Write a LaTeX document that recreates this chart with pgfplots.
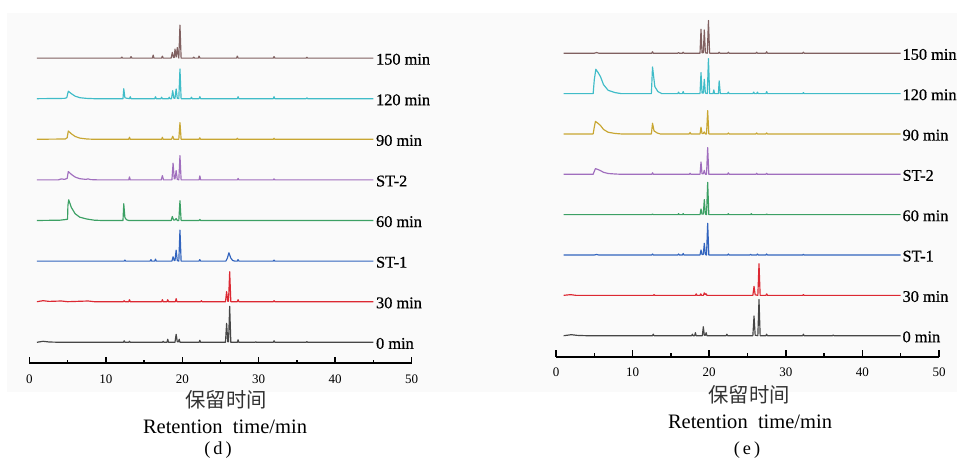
\documentclass[border=0pt]{standalone}
\usepackage{fontspec}
\setmainfont{Liberation Serif}
\newfontfamily\lblfont{Liberation Serif}[FakeBold=0.6]
\newfontfamily\cjk{Noto Sans CJK SC}
\usepackage{pgfplots}
\pgfplotsset{compat=1.18}
\usepackage{pgfplotstable}

\definecolor{cbrown}{RGB}{128,96,96}
\definecolor{ccyan}{RGB}{64,188,200}
\definecolor{cgold}{RGB}{200,166,50}
\definecolor{cpurple}{RGB}{160,110,190}
\definecolor{cgreen}{RGB}{60,160,100}
\definecolor{cblue}{RGB}{50,100,190}
\definecolor{cred}{RGB}{220,40,50}
\definecolor{cgray}{RGB}{70,70,70}

% panel (d): t = time (min), h = height above the trace's own baseline
\pgfplotstableread[row sep=\\]{t h\\ 1 0\\ 12.0 0\\ 12.1 1\\ 12.2 0\\ 13.2 0\\ 13.3 1.5\\ 13.4 0\\ 16.1 0\\ 16.2 3\\ 16.3 0\\ 17.3 0\\ 17.4 2\\ 17.5 0\\
18.55 0\\ 18.7 5.7\\ 18.85 0.5\\ 18.95 0.5\\ 19.05 9\\ 19.2 1\\ 19.35 10.5\\ 19.5 1\\ 19.55 0\\ 19.7 33\\ 19.85 0\\ 21.4 0\\ 21.5 1\\ 21.6 0\\
22.1 0\\ 22.2 2\\ 22.3 0\\ 27.1 0\\ 27.2 2\\ 27.3 0\\ 31.9 0\\ 32 1.5\\ 32.1 0\\ 36.2 0\\ 36.3 0.8\\ 36.4 0\\ 45 0\\}\dA
\pgfplotstableread[row sep=\\]{t h\\ 1 0\\ 4.6 0.3\\ 4.9 1\\ 5.1 7.5\\ 5.5 5\\ 6.0 2.5\\ 6.6 1\\ 7.5 0.3\\ 8.5 0\\ 12.25 0\\ 12.35 10\\ 12.5 1\\ 12.7 0.5\\
13.1 0\\ 13.2 2\\ 13.3 0\\ 16.4 0\\ 16.5 2\\ 16.6 0\\ 17.2 0\\ 17.3 1.5\\ 17.4 0\\ 18.2 0\\ 18.3 1.5\\ 18.4 0\\ 18.6 0\\ 18.75 8\\ 18.9 0.5\\
19.05 0.5\\ 19.2 9.7\\ 19.35 0.5\\ 19.55 0\\ 19.7 29.7\\ 19.85 0\\ 21.1 0\\ 21.2 1.5\\ 21.3 0\\ 22.2 0\\ 22.3 2\\ 22.4 0\\ 27.2 0\\ 27.3 2\\ 27.4 0\\
31.9 0\\ 32 2\\ 32.1 0\\ 36.2 0\\ 36.3 0.8\\ 36.4 0\\ 45 0\\}\dB
\pgfplotstableread[row sep=\\]{t h\\ 1 0\\ 4.7 0.3\\ 4.95 1.5\\ 5.1 8.3\\ 5.5 5.5\\ 6.0 2.8\\ 6.6 1.2\\ 7.5 0.3\\ 8.5 0\\ 13.0 0\\ 13.1 2\\ 13.2 0\\
17.3 0\\ 17.4 2\\ 17.5 0\\ 18.6 0\\ 18.75 3\\ 18.9 0\\ 19.55 0\\ 19.7 16.7\\ 19.85 0\\ 22.2 0\\ 22.3 1.5\\ 22.4 0\\ 27.1 0\\ 27.2 1\\ 27.3 0\\
31.9 0\\ 32 1\\ 32.1 0\\ 45 0\\}\dC
\pgfplotstableread[row sep=\\]{t h\\ 1 0\\ 3.8 0\\ 4.2 1\\ 4.6 0.5\\ 4.95 1.5\\ 5.1 8.3\\ 5.5 5.5\\ 6.0 2.8\\ 6.6 1.2\\ 7.4 0.5\\ 7.7 1\\ 8.0 0.3\\ 9 0\\
13.0 0\\ 13.1 3\\ 13.2 0\\ 17.25 0\\ 17.4 4.3\\ 17.55 0\\ 18.65 0\\ 18.8 16.7\\ 18.95 1\\ 19.05 1\\ 19.2 9.3\\ 19.35 0.5\\ 19.55 0\\ 19.7 24.3\\ 19.85 0\\
22.2 0\\ 22.3 4\\ 22.4 0\\ 27.2 0\\ 27.3 1.5\\ 27.4 0\\ 31.9 0\\ 32 1\\ 32.1 0\\ 45 0\\}\dD
\pgfplotstableread[row sep=\\]{t h\\ 1 0\\ 4.0 0.3\\ 4.8 1\\ 5.0 1.2\\ 5.05 15\\ 5.15 20.7\\ 5.5 13\\ 6.0 6.7\\ 6.6 3.3\\ 7.5 1.5\\ 8.5 0.3\\ 9.5 0\\
12.25 0\\ 12.35 16.7\\ 12.5 3\\ 12.7 0.8\\ 13.0 0\\ 18.55 0\\ 18.7 4\\ 18.85 0.5\\ 19.05 0.5\\ 19.2 2\\ 19.35 0\\ 19.55 0\\ 19.7 19.7\\ 19.85 0\\
22.2 0\\ 22.3 1\\ 22.4 0\\ 45 0\\}\dE
\pgfplotstableread[row sep=\\]{t h\\ 1 0\\ 12.4 0\\ 12.5 1\\ 12.6 0\\ 15.8 0\\ 15.9 1.5\\ 16.0 0\\ 16.4 0\\ 16.5 2\\ 16.6 0\\ 18.65 0\\ 18.8 4.3\\ 18.95 0.5\\
19.05 0.5\\ 19.2 11\\ 19.35 0.5\\ 19.55 0\\ 19.7 31\\ 19.85 0\\ 22.2 0\\ 22.3 1.5\\ 22.4 0\\ 25.7 0\\ 25.9 3\\ 26.1 8.3\\ 26.35 3\\ 26.6 0.5\\ 26.9 0\\
27.2 0\\ 27.3 1.5\\ 27.4 0\\ 31.9 0\\ 32 1\\ 32.1 0\\ 45 0\\}\dF
\pgfplotstableread[row sep=\\]{t h\\ 1 0\\ 1.8 1\\ 2.6 0.3\\ 4.2 0.7\\ 5 0\\ 7.7 0.7\\ 8.5 0\\ 12.3 0\\ 12.4 1\\ 12.5 0\\ 13.0 0\\ 13.1 2\\ 13.2 0\\
17.3 0\\ 17.4 2\\ 17.5 0\\ 18.0 0\\ 18.1 2\\ 18.2 0\\ 19.1 0\\ 19.2 3\\ 19.3 0\\ 22.4 0\\ 22.5 1\\ 22.6 0\\ 25.65 0\\ 25.8 10\\ 25.95 0.5\\
26.05 0.5\\ 26.2 30\\ 26.35 0\\ 27.2 0\\ 27.3 2\\ 27.4 0\\ 31.9 0\\ 32 1\\ 32.1 0\\ 45 0\\}\dG
\pgfplotstableread[row sep=\\]{t h\\ 1 0\\ 1.8 1\\ 2.6 0.3\\ 4 0\\ 12.3 0\\ 12.4 1.5\\ 12.5 0\\ 13.0 0\\ 13.1 1\\ 13.2 0\\ 17.4 0\\ 17.5 1\\ 17.6 0\\
18.0 0\\ 18.1 3\\ 18.2 0\\ 19.05 0\\ 19.2 8\\ 19.35 0.5\\ 19.5 0.5\\ 19.6 3\\ 19.7 0\\ 22.2 0\\ 22.3 2\\ 22.4 0\\ 25.65 0\\ 25.8 19\\ 25.95 0.5\\
26.05 0.5\\ 26.2 36\\ 26.35 0\\ 27.2 0\\ 27.3 2.5\\ 27.4 0\\ 29.5 0\\ 29.6 0.5\\ 29.7 0\\ 31.9 0\\ 32 1.5\\ 32.1 0\\ 36.2 0\\ 36.3 0.7\\ 36.4 0\\ 45 0\\}\dH

% panel (e)
\pgfplotstableread[row sep=\\]{t h\\ 1 0\\ 5.0 0\\ 5.3 0.7\\ 5.6 0\\ 12.5 0\\ 12.6 1.5\\ 12.7 0\\ 15.9 0\\ 16.0 0.7\\ 16.1 0\\ 16.5 0\\ 16.6 1\\ 16.7 0\\
18.8 0\\ 18.93 24\\ 19.06 0.5\\ 19.23 0.5\\ 19.36 23.3\\ 19.5 0.5\\ 19.75 0\\ 19.9 32.7\\ 20.05 0\\ 21.2 0\\ 21.3 1\\ 21.4 0\\ 22.4 0\\ 22.5 1\\ 22.6 0\\
26.1 0\\ 26.2 1\\ 26.3 0\\ 27.4 0\\ 27.5 1.5\\ 27.6 0\\ 32.2 0\\ 32.3 1\\ 32.4 0\\ 45 0\\}\eA
\pgfplotstableread[row sep=\\]{t h\\ 1 0\\ 4.85 0\\ 5.0 14\\ 5.2 24.3\\ 5.5 21\\ 5.8 17\\ 6.2 9\\ 6.8 3.3\\ 7.7 1\\ 8.5 0\\ 12.45 0\\ 12.6 26.7\\ 12.9 7\\
13.3 2\\ 13.8 0\\ 15.9 0\\ 16.0 1.5\\ 16.1 0\\ 16.5 0\\ 16.6 2\\ 16.7 0\\ 18.8 0\\ 18.93 21\\ 19.06 0.5\\ 19.23 0.5\\ 19.36 14.3\\ 19.5 0.5\\ 19.75 0\\
19.9 35\\ 20.05 0\\ 20.5 0\\ 20.6 3.7\\ 20.7 0\\ 21.2 0\\ 21.3 12.7\\ 21.45 0\\ 22.4 0\\ 22.5 1.5\\ 22.6 0\\ 25.7 0\\ 25.8 1.5\\ 25.9 0\\ 26.2 0\\ 26.3 1.5\\
26.4 0\\ 27.4 0\\ 27.5 2\\ 27.6 0\\ 32.2 0\\ 32.3 1\\ 32.4 0\\ 45 0\\}\eB
\pgfplotstableread[row sep=\\]{t h\\ 1 0\\ 4.85 0\\ 5.0 7\\ 5.15 12.5\\ 5.5 10.5\\ 5.8 8.5\\ 6.2 4.5\\ 6.8 1.7\\ 7.7 0.5\\ 8.5 0\\ 12.45 0\\ 12.6 10.7\\
12.8 3\\ 13.2 1\\ 13.6 0\\ 17.4 0\\ 17.5 1.5\\ 17.6 0\\ 18.8 0\\ 18.93 6.7\\ 19.06 0.5\\ 19.23 0.5\\ 19.36 2\\ 19.5 0\\ 19.65 0\\ 19.8 23.3\\ 19.95 0\\
22.4 0\\ 22.5 1\\ 22.6 0\\ 26.1 0\\ 26.2 1\\ 26.3 0\\ 27.4 0\\ 27.5 1\\ 27.6 0\\ 45 0\\}\eC
\pgfplotstableread[row sep=\\]{t h\\ 1 0\\ 4.85 0\\ 5.0 3\\ 5.15 5.7\\ 5.5 4.7\\ 5.8 3.7\\ 6.2 2\\ 6.8 0.8\\ 7.7 0.3\\ 8.5 0\\ 12.5 0\\ 12.6 1.5\\ 12.7 0\\
17.4 0\\ 17.5 1\\ 17.6 0\\ 18.8 0\\ 18.93 12.3\\ 19.06 0.5\\ 19.23 0.5\\ 19.36 4\\ 19.5 0\\ 19.65 0\\ 19.8 26.7\\ 19.95 0\\ 22.4 0\\ 22.5 1.5\\ 22.6 0\\
26.1 0\\ 26.2 1\\ 26.3 0\\ 27.4 0\\ 27.5 1\\ 27.6 0\\ 45 0\\}\eD
\pgfplotstableread[row sep=\\]{t h\\ 1 0\\ 12.5 0\\ 12.6 0.7\\ 12.7 0\\ 15.9 0\\ 16.0 1\\ 16.1 0\\ 16.5 0\\ 16.6 1\\ 16.7 0\\ 18.8 0\\ 18.93 5.7\\ 19.06 0.5\\
19.23 0.5\\ 19.36 15\\ 19.5 0.5\\ 19.65 0\\ 19.8 32.3\\ 19.95 0\\ 22.4 0\\ 22.5 1\\ 22.6 0\\ 25.4 0\\ 25.5 1\\ 25.6 0\\ 27.4 0\\ 27.5 0.7\\ 27.6 0\\ 45 0\\}\eE
\pgfplotstableread[row sep=\\]{t h\\ 1 0\\ 5.0 0\\ 5.3 0.5\\ 5.6 0\\ 12.5 0\\ 12.6 1\\ 12.7 0\\ 15.9 0\\ 16.0 1\\ 16.1 0\\ 16.5 0\\ 16.6 1.5\\ 16.7 0\\
18.8 0\\ 18.93 5\\ 19.06 0.5\\ 19.23 0.5\\ 19.36 11.7\\ 19.5 0.5\\ 19.65 0\\ 19.8 31.7\\ 19.95 0\\ 22.4 0\\ 22.5 1\\ 22.6 0\\ 25.3 0\\ 25.4 0.7\\ 25.5 0\\
26.2 0\\ 26.3 1\\ 26.4 0\\ 27.4 0\\ 27.5 1\\ 27.6 0\\ 32.2 0\\ 32.3 0.7\\ 32.4 0\\ 45 0\\}\eF
\pgfplotstableread[row sep=\\]{t h\\ 1 0\\ 1.9 0.7\\ 2.6 0\\ 12.7 0\\ 12.8 0.7\\ 12.9 0\\ 18.2 0\\ 18.3 1.5\\ 18.4 0\\ 18.8 0\\ 18.9 1.5\\ 19.0 0\\
19.25 0\\ 19.36 2.5\\ 19.5 0.8\\ 19.6 1.5\\ 19.7 0\\ 25.7 0\\ 25.85 9\\ 26.0 0.5\\ 26.35 0\\ 26.5 31.7\\ 26.65 0\\ 27.4 0\\ 27.5 1.5\\ 27.6 0\\
32.2 0\\ 32.3 0.7\\ 32.4 0\\ 45 0\\}\eG
\pgfplotstableread[row sep=\\]{t h\\ 1 0\\ 2.0 1\\ 2.8 0.3\\ 4 0\\ 12.6 0\\ 12.7 1.5\\ 12.8 0\\ 17.7 0\\ 17.8 1.5\\ 17.9 0\\ 18.1 0\\ 18.2 3\\ 18.3 0\\
19.1 0\\ 19.23 9\\ 19.36 0.5\\ 19.5 0.5\\ 19.6 3\\ 19.7 0\\ 22.2 0\\ 22.3 1.5\\ 22.4 0\\ 25.7 0\\ 25.85 19.7\\ 26.0 0.5\\ 26.35 0\\ 26.5 36.3\\ 26.65 0\\
27.4 0\\ 27.5 1.5\\ 27.6 0\\ 32.2 0\\ 32.3 1.5\\ 32.4 0\\ 36.1 0\\ 36.2 0.7\\ 36.3 0\\ 45 0\\}\eH

\pgfplotsset{
  chrom/.style={
    scale only axis, clip=false,
    xmin=0, xmax=50, ymin=0, ymax=345,
    axis x line*=bottom, axis y line=none,
    xtick={0,10,...,50}, minor x tick num=1,
    tick align=inside,
    major tick length=4pt, minor tick length=2pt,
    every outer x axis line/.append style={line width=1.1pt},
    every tick/.style={black, line width=0.9pt},
    xticklabel style={font=\fontsize{7.8}{8}\selectfont, yshift=-3.4pt},
    /pgf/number format/assume math mode=true,
    every axis plot/.append style={line width=0.7pt, line join=round},
  },
}
\tikzset{tlabel/.style={anchor=west, inner sep=0pt, font=\lblfont\fontsize{9.8}{10}\selectfont, yshift=-0.7pt}}

\begin{document}
\begin{tikzpicture}
\useasboundingbox (0,0) rectangle (574.2pt,274.8pt);
\fill[black!2] (4.2pt,267pt) rectangle (574.2pt,39.6pt);

% ---- (d)
\begin{axis}[chrom, at={(17.58pt,56.82pt)}, anchor=south west, width=229.44pt, height=207pt]
\addplot[cbrown]  table[x=t, y expr=\thisrow{h}+305.2] {\dA};
\addplot[ccyan]   table[x=t, y expr=\thisrow{h}+264.6] {\dB};
\addplot[cgold]   table[x=t, y expr=\thisrow{h}+224.0] {\dC};
\addplot[cpurple] table[x=t, y expr=\thisrow{h}+183.4] {\dD};
\addplot[cgreen]  table[x=t, y expr=\thisrow{h}+142.8] {\dE};
\addplot[cblue]   table[x=t, y expr=\thisrow{h}+102.2] {\dF};
\addplot[cred]    table[x=t, y expr=\thisrow{h}+61.6]  {\dG};
\addplot[cgray]   table[x=t, y expr=\thisrow{h}+21.0]  {\dH};
\node[tlabel] at (axis cs:45.3,305.2) {150 min};
\node[tlabel] at (axis cs:45.3,264.6) {120 min};
\node[tlabel] at (axis cs:45.3,224.0) {90 min};
\node[tlabel] at (axis cs:45.3,183.4) {ST-2};
\node[tlabel] at (axis cs:45.3,142.8) {60 min};
\node[tlabel] at (axis cs:45.3,102.2) {ST-1};
\node[tlabel] at (axis cs:45.3,61.6)  {30 min};
\node[tlabel] at (axis cs:45.3,21.0)  {0 min};
\end{axis}

% ---- (e)
\begin{axis}[chrom, at={(333.6pt,60.78pt)}, anchor=south west, width=229.8pt, height=207pt]
\addplot[cbrown]  table[x=t, y expr=\thisrow{h}+303.45] {\eA};
\addplot[ccyan]   table[x=t, y expr=\thisrow{h}+263.1]  {\eB};
\addplot[cgold]   table[x=t, y expr=\thisrow{h}+222.75] {\eC};
\addplot[cpurple] table[x=t, y expr=\thisrow{h}+182.4]  {\eD};
\addplot[cgreen]  table[x=t, y expr=\thisrow{h}+142.05] {\eE};
\addplot[cblue]   table[x=t, y expr=\thisrow{h}+101.7]  {\eF};
\addplot[cred]    table[x=t, y expr=\thisrow{h}+61.35]  {\eG};
\addplot[cgray]   table[x=t, y expr=\thisrow{h}+21.0]   {\eH};
\node[tlabel] at (axis cs:45.2,303.45) {150 min};
\node[tlabel] at (axis cs:45.2,263.1)  {120 min};
\node[tlabel] at (axis cs:45.2,222.75) {90 min};
\node[tlabel] at (axis cs:45.2,182.4)  {ST-2};
\node[tlabel] at (axis cs:45.2,142.05) {60 min};
\node[tlabel] at (axis cs:45.2,101.7)  {ST-1};
\node[tlabel] at (axis cs:45.2,61.35)  {30 min};
\node[tlabel] at (axis cs:45.2,21.0)   {0 min};
\end{axis}

% axis titles and panel letters
\node[font=\cjk\fontsize{12.2}{13}\selectfont, text=black!80] at (135.6pt,34.8pt) {保留时间};
\node[font=\fontsize{12.3}{13}\selectfont] at (135pt,18.6pt) {Retention\ \ time/min};
\node[font=\fontsize{11}{12}\selectfont] at (130.8pt,4.8pt) {(\,d\,)};
\node[font=\cjk\fontsize{12.2}{13}\selectfont, text=black!80] at (449.4pt,37.8pt) {保留时间};
\node[font=\fontsize{12.3}{13}\selectfont] at (450pt,21.8pt) {Retention\ \ time/min};
\node[font=\fontsize{11}{12}\selectfont] at (448.2pt,4.8pt) {(\,e\,)};
\end{tikzpicture}
\end{document}
